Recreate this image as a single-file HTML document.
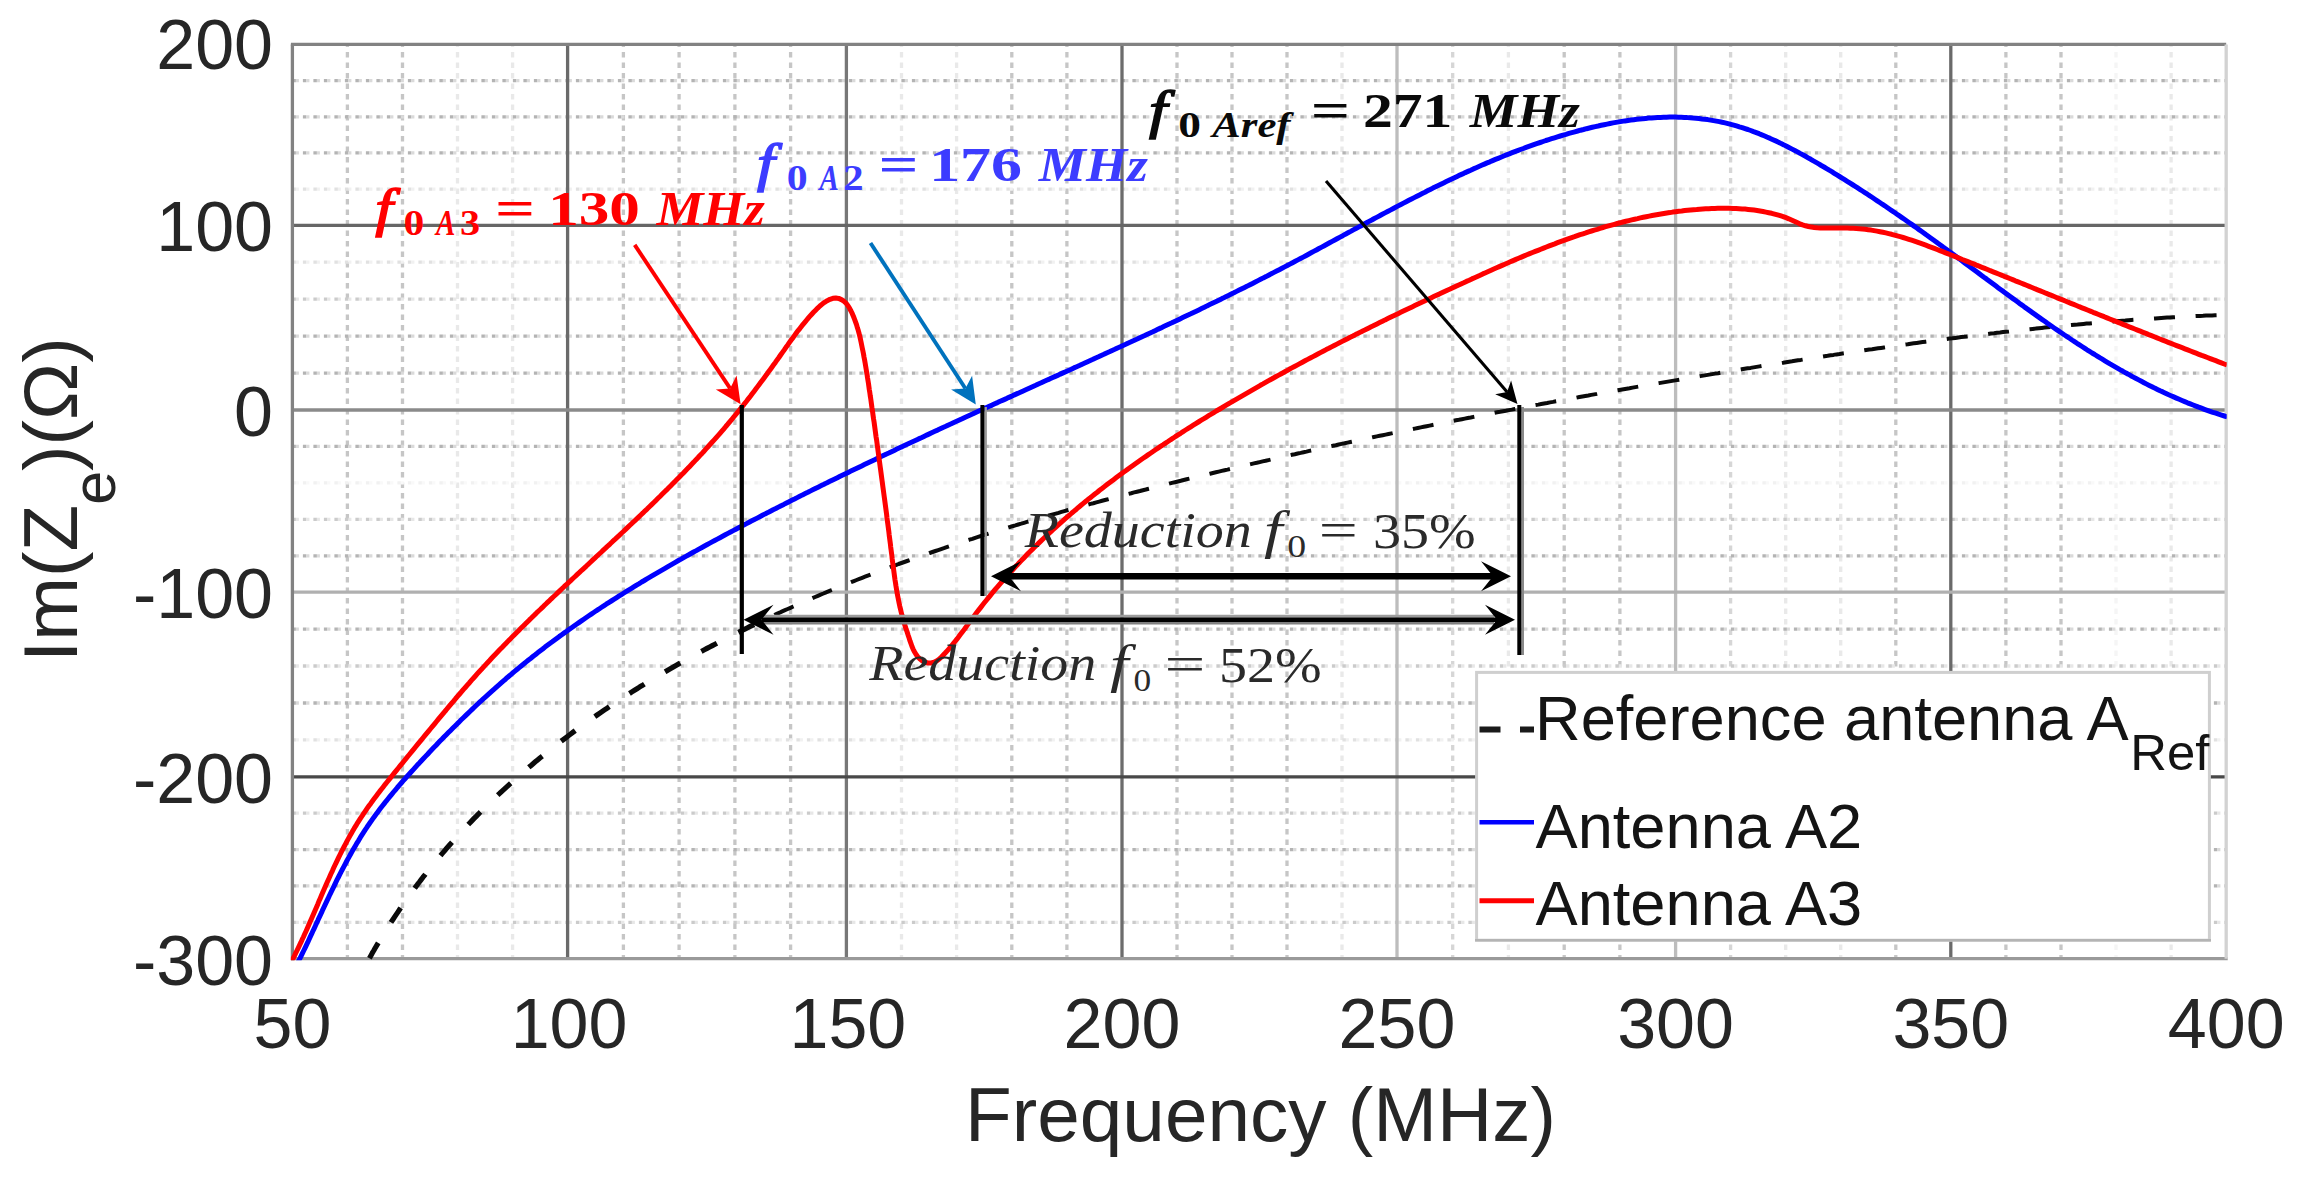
<!DOCTYPE html>
<html lang="en">
<head>
<meta charset="utf-8">
<title>Im(Ze) versus Frequency</title>
<style>
html,body{margin:0;padding:0;background:#fff;}
body{width:2300px;height:1180px;overflow:hidden;}
svg{display:block;}
</style>
</head>
<body>
<svg width="2300" height="1180" viewBox="0 0 2300 1180">
<rect width="2300" height="1180" fill="#fff"/>
<g fill="none" stroke-width="3.3">
<path d="M347.4 44.4V958.7" stroke="#c6c6c6" stroke-dasharray="5.5 5" stroke-dashoffset="3"/>
<path d="M402.5 44.4V958.7" stroke="#c6c6c6" stroke-dasharray="5.5 5" stroke-dashoffset="3"/>
<path d="M457.5 44.4V958.7" stroke="#e9e9e9" stroke-dasharray="5.5 5" stroke-dashoffset="3"/>
<path d="M512.6 44.4V958.7" stroke="#e9e9e9" stroke-dasharray="5.5 5" stroke-dashoffset="3"/>
<path d="M623.4 44.4V958.7" stroke="#c6c6c6" stroke-dasharray="5.5 5" stroke-dashoffset="3"/>
<path d="M679.1 44.4V958.7" stroke="#c6c6c6" stroke-dasharray="5.5 5" stroke-dashoffset="3"/>
<path d="M734.9 44.4V958.7" stroke="#c6c6c6" stroke-dasharray="5.5 5" stroke-dashoffset="3"/>
<path d="M790.6 44.4V958.7" stroke="#c6c6c6" stroke-dasharray="5.5 5" stroke-dashoffset="3"/>
<path d="M901.5 44.4V958.7" stroke="#e9e9e9" stroke-dasharray="5.5 5" stroke-dashoffset="3"/>
<path d="M956.6 44.4V958.7" stroke="#e9e9e9" stroke-dasharray="5.5 5" stroke-dashoffset="3"/>
<path d="M1011.8 44.4V958.7" stroke="#c6c6c6" stroke-dasharray="5.5 5" stroke-dashoffset="3"/>
<path d="M1066.9 44.4V958.7" stroke="#c6c6c6" stroke-dasharray="5.5 5" stroke-dashoffset="3"/>
<path d="M1177.0 44.4V958.7" stroke="#c6c6c6" stroke-dasharray="5.5 5" stroke-dashoffset="3"/>
<path d="M1232.0 44.4V958.7" stroke="#c6c6c6" stroke-dasharray="5.5 5" stroke-dashoffset="3"/>
<path d="M1287.0 44.4V958.7" stroke="#c6c6c6" stroke-dasharray="5.5 5" stroke-dashoffset="3"/>
<path d="M1342.0 44.4V958.7" stroke="#e9e9e9" stroke-dasharray="5.5 5" stroke-dashoffset="3"/>
<path d="M1452.7 44.4V958.7" stroke="#d6d6d6" stroke-dasharray="5.5 5" stroke-dashoffset="3"/>
<path d="M1508.4 44.4V958.7" stroke="#e9e9e9" stroke-dasharray="5.5 5" stroke-dashoffset="3"/>
<path d="M1564.2 44.4V958.7" stroke="#c6c6c6" stroke-dasharray="5.5 5" stroke-dashoffset="3"/>
<path d="M1619.9 44.4V958.7" stroke="#c6c6c6" stroke-dasharray="5.5 5" stroke-dashoffset="3"/>
<path d="M1730.6 44.4V958.7" stroke="#d6d6d6" stroke-dasharray="5.5 5" stroke-dashoffset="3"/>
<path d="M1785.7 44.4V958.7" stroke="#e9e9e9" stroke-dasharray="5.5 5" stroke-dashoffset="3"/>
<path d="M1840.7 44.4V958.7" stroke="#e9e9e9" stroke-dasharray="5.5 5" stroke-dashoffset="3"/>
<path d="M1895.8 44.4V958.7" stroke="#c6c6c6" stroke-dasharray="5.5 5" stroke-dashoffset="3"/>
<path d="M2005.9 44.4V958.7" stroke="#c6c6c6" stroke-dasharray="5.5 5" stroke-dashoffset="3"/>
<path d="M2061.0 44.4V958.7" stroke="#c6c6c6" stroke-dasharray="5.5 5" stroke-dashoffset="3"/>
<path d="M2116.0 44.4V958.7" stroke="#f5f5f5" stroke-dasharray="5.5 5" stroke-dashoffset="3"/>
<path d="M2171.1 44.4V958.7" stroke="#e9e9e9" stroke-dasharray="5.5 5" stroke-dashoffset="3"/>
<path d="M292.4 80.6H2226.2" stroke="#b4b4b4" stroke-dasharray="3.5 7"/>
<path d="M292.4 80.6H2226.2" stroke="#dadada" stroke-dasharray="3 7.5" stroke-dashoffset="-3.5"/>
<path d="M292.4 116.8H2226.2" stroke="#b4b4b4" stroke-dasharray="3.5 7"/>
<path d="M292.4 116.8H2226.2" stroke="#dadada" stroke-dasharray="3 7.5" stroke-dashoffset="-3.5"/>
<path d="M292.4 152.9H2226.2" stroke="#b4b4b4" stroke-dasharray="3.5 7"/>
<path d="M292.4 152.9H2226.2" stroke="#dadada" stroke-dasharray="3 7.5" stroke-dashoffset="-3.5"/>
<path d="M292.4 189.1H2226.2" stroke="#e1e1e1" stroke-dasharray="3.5 7"/>
<path d="M292.4 189.1H2226.2" stroke="#f1f1f1" stroke-dasharray="3 7.5" stroke-dashoffset="-3.5"/>
<path d="M292.4 262.2H2226.2" stroke="#e1e1e1" stroke-dasharray="3.5 7"/>
<path d="M292.4 262.2H2226.2" stroke="#f1f1f1" stroke-dasharray="3 7.5" stroke-dashoffset="-3.5"/>
<path d="M292.4 299.2H2226.2" stroke="#cbcbcb" stroke-dasharray="3.5 7"/>
<path d="M292.4 299.2H2226.2" stroke="#e7e7e7" stroke-dasharray="3 7.5" stroke-dashoffset="-3.5"/>
<path d="M292.4 336.1H2226.2" stroke="#b4b4b4" stroke-dasharray="3.5 7"/>
<path d="M292.4 336.1H2226.2" stroke="#dadada" stroke-dasharray="3 7.5" stroke-dashoffset="-3.5"/>
<path d="M292.4 373.1H2226.2" stroke="#b4b4b4" stroke-dasharray="3.5 7"/>
<path d="M292.4 373.1H2226.2" stroke="#dadada" stroke-dasharray="3 7.5" stroke-dashoffset="-3.5"/>
<path d="M292.4 446.4H2226.2" stroke="#b4b4b4" stroke-dasharray="3.5 7"/>
<path d="M292.4 446.4H2226.2" stroke="#dadada" stroke-dasharray="3 7.5" stroke-dashoffset="-3.5"/>
<path d="M292.4 482.9H2226.2" stroke="#f1f1f1" stroke-dasharray="3.5 7"/>
<path d="M292.4 482.9H2226.2" stroke="#f9f9f9" stroke-dasharray="3 7.5" stroke-dashoffset="-3.5"/>
<path d="M292.4 519.3H2226.2" stroke="#cbcbcb" stroke-dasharray="3.5 7"/>
<path d="M292.4 519.3H2226.2" stroke="#e7e7e7" stroke-dasharray="3 7.5" stroke-dashoffset="-3.5"/>
<path d="M292.4 555.8H2226.2" stroke="#b4b4b4" stroke-dasharray="3.5 7"/>
<path d="M292.4 555.8H2226.2" stroke="#dadada" stroke-dasharray="3 7.5" stroke-dashoffset="-3.5"/>
<path d="M292.4 629.1H2226.2" stroke="#b4b4b4" stroke-dasharray="3.5 7"/>
<path d="M292.4 629.1H2226.2" stroke="#dadada" stroke-dasharray="3 7.5" stroke-dashoffset="-3.5"/>
<path d="M292.4 666.0H2226.2" stroke="#cbcbcb" stroke-dasharray="3.5 7"/>
<path d="M292.4 666.0H2226.2" stroke="#e7e7e7" stroke-dasharray="3 7.5" stroke-dashoffset="-3.5"/>
<path d="M292.4 703.0H2226.2" stroke="#b4b4b4" stroke-dasharray="3.5 7"/>
<path d="M292.4 703.0H2226.2" stroke="#dadada" stroke-dasharray="3 7.5" stroke-dashoffset="-3.5"/>
<path d="M292.4 739.9H2226.2" stroke="#e1e1e1" stroke-dasharray="3.5 7"/>
<path d="M292.4 739.9H2226.2" stroke="#f1f1f1" stroke-dasharray="3 7.5" stroke-dashoffset="-3.5"/>
<path d="M292.4 813.2H2226.2" stroke="#cbcbcb" stroke-dasharray="3.5 7"/>
<path d="M292.4 813.2H2226.2" stroke="#e7e7e7" stroke-dasharray="3 7.5" stroke-dashoffset="-3.5"/>
<path d="M292.4 849.6H2226.2" stroke="#b4b4b4" stroke-dasharray="3.5 7"/>
<path d="M292.4 849.6H2226.2" stroke="#dadada" stroke-dasharray="3 7.5" stroke-dashoffset="-3.5"/>
<path d="M292.4 885.9H2226.2" stroke="#b4b4b4" stroke-dasharray="3.5 7"/>
<path d="M292.4 885.9H2226.2" stroke="#dadada" stroke-dasharray="3 7.5" stroke-dashoffset="-3.5"/>
<path d="M292.4 922.3H2226.2" stroke="#cbcbcb" stroke-dasharray="3.5 7"/>
<path d="M292.4 922.3H2226.2" stroke="#e7e7e7" stroke-dasharray="3 7.5" stroke-dashoffset="-3.5"/>
</g>
<g fill="none" stroke-width="3.3">
<path d="M567.6 44.4V958.7" stroke="#6a6a6a"/>
<path d="M846.4 44.4V958.7" stroke="#777"/>
<path d="M1122.0 44.4V958.7" stroke="#6c6c6c"/>
<path d="M1397.0 44.4V958.7" stroke="#bdbdbd"/>
<path d="M1675.6 44.4V958.7" stroke="#bdbdbd"/>
<path d="M1950.8 44.4V958.7" stroke="#6a6a6a"/>
<path d="M292.4 225.3H2226.2" stroke="#666"/>
<path d="M292.4 410.0H2226.2" stroke="#8a8a8a"/>
<path d="M292.4 592.2H2226.2" stroke="#b0b0b0"/>
<path d="M292.4 776.8H2226.2" stroke="#484848"/>
<path d="M290.9 44.4H2226.2" stroke="#828282"/>
<path d="M292.4 44.4V960.2" stroke="#828282"/>
<path d="M290.9 958.7H2227.7" stroke="#9a9a9a"/>
<path d="M2226.2 44.4V958.7" stroke="#d2d2d2"/>
</g>
<clipPath id="cp"><rect x="290.9" y="44.4" width="1935.8" height="915.8"/></clipPath>
<g clip-path="url(#cp)" fill="none" stroke-linejoin="round">
<clipPath id="cpa"><rect x="280" y="30" width="480" height="940"/></clipPath><clipPath id="cpb"><rect x="760" y="30" width="1480" height="940"/></clipPath>
<g clip-path="url(#cpa)"><path d="M364.7 966.7L366.2 964.0L367.7 961.3L369.2 958.6L370.7 955.9L372.2 953.2L373.8 950.5L375.3 947.8L376.9 945.2L378.5 942.5L380.0 939.9L381.6 937.3L383.2 934.7L384.9 932.1L386.5 929.5L388.1 926.9L389.8 924.3L391.4 921.7L393.1 919.2L394.8 916.6L396.5 914.1L398.2 911.6L399.9 909.0L401.6 906.5L403.3 904.0L405.1 901.6L406.8 899.1L408.6 896.6L410.3 894.2L412.1 891.7L413.9 889.3L415.7 886.9L417.5 884.4L419.4 882.0L421.2 879.6L423.0 877.2L424.9 874.9L426.7 872.5L428.6 870.1L430.5 867.8L432.4 865.4L434.3 863.1L436.2 860.8L438.1 858.5L440.0 856.2L441.9 853.9L443.9 851.6L445.8 849.3L447.8 847.1L449.8 844.8L451.7 842.6L453.7 840.3L455.7 838.1L457.7 835.9L459.8 833.7L461.8 831.5L463.8 829.3L465.8 827.1L467.9 824.9L470.0 822.7L472.0 820.6L474.1 818.4L476.2 816.3L478.3 814.2L480.4 812.0L482.5 809.9L484.6 807.8L486.7 805.7L488.8 803.7L491.0 801.6L493.1 799.5L495.3 797.4L497.4 795.4L499.6 793.4L501.8 791.3L504.0 789.3L506.2 787.3L508.4 785.3L510.6 783.3L512.8 781.3L515.0 779.3L517.2 777.3L519.5 775.4L521.7 773.4L524.0 771.4L526.2 769.5L528.5 767.6L530.8 765.7L533.1 763.7L535.3 761.8L537.6 759.9L539.9 758.0L542.2 756.2L544.6 754.3L546.9 752.4L549.2 750.5L551.5 748.7L553.9 746.9L556.2 745.0L558.6 743.2L560.9 741.4L563.3 739.6L565.7 737.8L568.1 736.0L570.4 734.2L572.8 732.4L575.2 730.6L577.6 728.8L580.0 727.1L582.5 725.3L584.9 723.6L587.3 721.9L589.7 720.1L592.2 718.4L594.6 716.7L597.1 715.0L599.5 713.3L602.0 711.6L604.5 709.9L606.9 708.3L609.4 706.6L611.9 704.9L614.4 703.3L616.9 701.6L619.4 700.0L621.9 698.4L624.4 696.7L626.9 695.1L629.4 693.5L631.9 691.9L634.5 690.3L637.0 688.7L639.5 687.1L642.1 685.6L644.6 684.0L647.2 682.4L649.7 680.9L652.3 679.3L654.9 677.8L657.4 676.3L660.0 674.7L662.6 673.2L665.2 671.7L667.7 670.2L670.3 668.7L672.9 667.2L675.5 665.7L678.1 664.2L680.7 662.8L683.4 661.3L686.0 659.8L688.6 658.4L691.2 656.9L693.8 655.5L696.5 654.1L699.1 652.6L701.7 651.2L704.4 649.8L707.0 648.4L709.7 647.0L712.3 645.6L715.0 644.2L717.6 642.8L720.3 641.5L722.9 640.1L725.6 638.7L728.3 637.4L731.0 636.0L733.6 634.7L736.3 633.3L739.0 632.0L741.7 630.7L744.4 629.3L747.1 628.0L749.7 626.7L752.4 625.4L755.1 624.1L757.8 622.8L760.5 621.5L763.2 620.3L766.0 619.0L768.7 617.7L771.4 616.4L774.1 615.2L776.8 613.9L779.5 612.7L782.2 611.4L785.0 610.2L787.7 609.0L790.4 607.8L793.2 606.5L795.9 605.3L798.6 604.1L801.4 602.9L804.1 601.7L806.9 600.5L809.6 599.3L812.4 598.2L815.1 597.0L817.9 595.8L820.6 594.6L823.4 593.5L826.1 592.3L828.9 591.2L831.7 590.0L834.4 588.9L837.2 587.8L840.0 586.6L842.7 585.5L845.5 584.4L848.3 583.3L851.1 582.2L853.9 581.1L856.6 580.0L859.4 578.9L862.2 577.8L865.0 576.7L867.8 575.6L870.6 574.5L873.4 573.5L876.2 572.4L879.0 571.3L881.8 570.3L884.6 569.2L887.4 568.2L890.2 567.1L893.0 566.1L895.8 565.1L898.6 564.0L901.5 563.0L904.3 562.0L907.1 561.0L909.9 560.0L912.7 559.0L915.6 558.0L918.4 557.0L921.2 556.0L924.0 555.0L926.9 554.0L929.7 553.0L932.5 552.0L935.4 551.0L938.2 550.1L941.1 549.1L943.9 548.2L946.7 547.2L949.6 546.2L952.4 545.3L955.3 544.4L958.1 543.4L961.0 542.5L963.8 541.5L966.7 540.6L969.5 539.7L972.4 538.8L975.2 537.8L978.1 536.9L981.0 536.0L983.8 535.1L986.7 534.2L989.5 533.3L992.4 532.4L995.3 531.5L998.1 530.6L1001.0 529.8L1003.9 528.9L1006.8 528.0L1009.6 527.1L1012.5 526.2L1015.4 525.4L1018.3 524.5L1021.1 523.7L1024.0 522.8L1026.9 521.9L1029.8 521.1L1032.7 520.2L1035.5 519.4L1038.4 518.6L1041.3 517.7L1044.2 516.9L1047.1 516.1L1050.0 515.2L1052.9 514.4L1055.8 513.6L1058.6 512.8L1061.5 511.9L1064.4 511.1L1067.3 510.3L1070.2 509.5L1073.1 508.7L1076.0 507.9L1078.9 507.1L1081.8 506.3L1084.7 505.5L1087.6 504.7L1090.5 503.9L1093.4 503.2L1096.3 502.4L1099.2 501.6L1102.1 500.8L1105.0 500.0L1107.9 499.3L1110.9 498.5L1113.8 497.7L1116.7 497.0L1119.6 496.2L1122.5 495.5L1125.4 494.7L1128.3 493.9L1131.2 493.2L1134.1 492.4L1137.0 491.7L1140.0 491.0L1142.9 490.2L1145.8 489.5L1148.7 488.7L1151.6 488.0L1154.5 487.3L1157.4 486.5L1160.4 485.8L1163.3 485.1L1166.2 484.4L1169.1 483.6L1172.0 482.9L1175.0 482.2L1177.9 481.5L1180.8 480.8L1183.7 480.0L1186.6 479.3L1189.6 478.6L1192.5 477.9L1195.4 477.2L1198.3 476.5L1201.2 475.8L1204.2 475.1L1207.1 474.4L1210.0 473.7L1212.9 473.0L1215.9 472.3L1218.8 471.6L1221.7 470.9L1224.6 470.2L1227.5 469.6L1230.5 468.9L1233.4 468.2L1236.3 467.5L1239.2 466.8L1242.2 466.1L1245.1 465.5L1248.0 464.8L1250.9 464.1L1253.9 463.4L1256.8 462.8L1259.7 462.1L1262.6 461.4L1265.6 460.8L1268.5 460.1L1271.4 459.4L1274.3 458.8L1277.3 458.1L1280.2 457.4L1283.1 456.8L1286.0 456.1L1289.0 455.5L1291.9 454.8L1294.8 454.2L1297.7 453.5L1300.7 452.9L1303.6 452.2L1306.5 451.6L1309.4 450.9L1312.4 450.3L1315.3 449.6L1318.2 449.0L1321.1 448.3L1324.1 447.7L1327.0 447.1L1329.9 446.4L1332.9 445.8L1335.8 445.2L1338.7 444.5L1341.6 443.9L1344.6 443.3L1347.5 442.6L1350.4 442.0L1353.4 441.4L1356.3 440.8L1359.2 440.1L1362.1 439.5L1365.1 438.9L1368.0 438.3L1370.9 437.7L1373.9 437.0L1376.8 436.4L1379.7 435.8L1382.7 435.2L1385.6 434.6L1388.5 434.0L1391.5 433.4L1394.4 432.8L1397.3 432.2L1400.2 431.6L1403.2 431.0L1406.1 430.4L1409.0 429.8L1412.0 429.2L1414.9 428.6L1417.8 428.0L1420.8 427.4L1423.7 426.8L1426.6 426.2L1429.6 425.6L1432.5 425.0L1435.4 424.4L1438.4 423.8L1441.3 423.2L1444.2 422.7L1447.2 422.1L1450.1 421.5L1453.1 420.9L1456.0 420.3L1458.9 419.8L1461.9 419.2L1464.8 418.6L1467.7 418.0L1470.7 417.5L1473.6 416.9L1476.5 416.3L1479.5 415.7L1482.4 415.2L1485.3 414.6L1488.3 414.0L1491.2 413.5L1494.2 412.9L1497.1 412.3L1500.0 411.8L1503.0 411.2L1505.9 410.7L1508.9 410.1L1511.8 409.6L1514.7 409.0L1517.7 408.4L1520.6 407.9L1523.6 407.3L1526.5 406.8L1529.4 406.2L1532.4 405.7L1535.3 405.1L1538.3 404.6L1541.2 404.0L1544.1 403.5L1547.1 403.0L1550.0 402.4L1553.0 401.9L1555.9 401.3L1558.8 400.8L1561.8 400.2L1564.7 399.7L1567.7 399.2L1570.6 398.6L1573.6 398.1L1576.5 397.6L1579.4 397.0L1582.4 396.5L1585.3 396.0L1588.3 395.5L1591.2 394.9L1594.2 394.4L1597.1 393.9L1600.1 393.3L1603.0 392.8L1606.0 392.3L1608.9 391.8L1611.8 391.3L1614.8 390.7L1617.7 390.2L1620.7 389.7L1623.6 389.2L1626.6 388.7L1629.5 388.2L1632.5 387.6L1635.4 387.1L1638.4 386.6L1641.3 386.1L1644.3 385.6L1647.2 385.1L1650.2 384.6L1653.1 384.1L1656.1 383.6L1659.0 383.1L1662.0 382.6L1664.9 382.1L1667.9 381.6L1670.8 381.1L1673.8 380.6L1676.7 380.1L1679.7 379.6L1682.6 379.1L1685.6 378.6L1688.5 378.1L1691.5 377.6L1694.4 377.1L1697.4 376.6L1700.3 376.1L1703.3 375.6L1706.3 375.1L1709.2 374.6L1712.2 374.1L1715.1 373.6L1718.1 373.2L1721.0 372.7L1724.0 372.2L1726.9 371.7L1729.9 371.2L1732.9 370.7L1735.8 370.2L1738.8 369.8L1741.7 369.3L1744.7 368.8L1747.6 368.3L1750.6 367.9L1753.6 367.4L1756.5 366.9L1759.5 366.4L1762.4 365.9L1765.4 365.5L1768.3 365.0L1771.3 364.5L1774.3 364.1L1777.2 363.6L1780.2 363.1L1783.2 362.7L1786.1 362.2L1789.1 361.7L1792.0 361.3L1795.0 360.8L1798.0 360.3L1800.9 359.9L1803.9 359.4L1806.8 358.9L1809.8 358.5L1812.8 358.0L1815.7 357.6L1818.7 357.1L1821.7 356.7L1824.6 356.2L1827.6 355.8L1830.6 355.3L1833.5 354.9L1836.5 354.4L1839.5 354.0L1842.4 353.5L1845.4 353.1L1848.4 352.6L1851.3 352.2L1854.3 351.8L1857.3 351.3L1860.2 350.9L1863.2 350.5L1866.2 350.0L1869.1 349.6L1872.1 349.2L1875.1 348.7L1878.0 348.3L1881.0 347.9L1884.0 347.5L1886.9 347.1L1889.9 346.6L1892.9 346.2L1895.9 345.8L1898.8 345.4L1901.8 345.0L1904.8 344.6L1907.7 344.2L1910.7 343.7L1913.7 343.3L1916.7 342.9L1919.6 342.5L1922.6 342.1L1925.6 341.7L1928.6 341.3L1931.5 341.0L1934.5 340.6L1937.5 340.2L1940.4 339.8L1943.4 339.4L1946.4 339.0L1949.4 338.6L1952.3 338.3L1955.3 337.9L1958.3 337.5L1961.3 337.1L1964.2 336.8L1967.2 336.4L1970.2 336.0L1973.2 335.7L1976.2 335.3L1979.1 334.9L1982.1 334.6L1985.1 334.2L1988.1 333.9L1991.0 333.5L1994.0 333.2L1997.0 332.8L2000.0 332.5L2003.0 332.1L2005.9 331.8L2008.9 331.5L2011.9 331.1L2014.9 330.8L2017.9 330.5L2020.8 330.1L2023.8 329.8L2026.8 329.5L2029.8 329.2L2032.8 328.9L2035.7 328.6L2038.7 328.2L2041.7 327.9L2044.7 327.6L2047.7 327.3L2050.7 327.0L2053.6 326.7L2056.6 326.4L2059.6 326.1L2062.6 325.9L2065.6 325.6L2068.6 325.3L2071.5 325.0L2074.5 324.7L2077.5 324.5L2080.5 324.2L2083.5 323.9L2086.5 323.6L2089.4 323.4L2092.4 323.1L2095.4 322.9L2098.4 322.6L2101.4 322.4L2104.4 322.1L2107.4 321.9L2110.3 321.6L2113.3 321.4L2116.3 321.1L2119.3 320.9L2122.3 320.7L2125.3 320.5L2128.3 320.2L2131.3 320.0L2134.2 319.8L2137.2 319.6L2140.2 319.4L2143.2 319.2L2146.2 319.0L2149.2 318.8L2152.2 318.6L2155.2 318.4L2158.2 318.2L2161.2 318.0L2164.1 317.8L2167.1 317.6L2170.1 317.5L2173.1 317.3L2176.1 317.1L2179.1 317.0L2182.1 316.8L2185.1 316.6L2188.1 316.5L2191.1 316.3L2194.1 316.2L2197.0 316.0L2200.0 315.9L2203.0 315.8L2206.0 315.6L2209.0 315.5L2212.0 315.4L2215.0 315.2L2218.0 315.1L2221.0 315.0L2224.0 314.9L2227.0 314.8" stroke="#0a0a0a" stroke-width="5.2" stroke-dasharray="17.60 24.06" stroke-dashoffset="31.90"/></g>
<g clip-path="url(#cpb)"><path d="M364.7 966.7L366.2 964.0L367.7 961.3L369.2 958.6L370.7 955.9L372.2 953.2L373.8 950.5L375.3 947.8L376.9 945.2L378.5 942.5L380.0 939.9L381.6 937.3L383.2 934.7L384.9 932.1L386.5 929.5L388.1 926.9L389.8 924.3L391.4 921.7L393.1 919.2L394.8 916.6L396.5 914.1L398.2 911.6L399.9 909.0L401.6 906.5L403.3 904.0L405.1 901.6L406.8 899.1L408.6 896.6L410.3 894.2L412.1 891.7L413.9 889.3L415.7 886.9L417.5 884.4L419.4 882.0L421.2 879.6L423.0 877.2L424.9 874.9L426.7 872.5L428.6 870.1L430.5 867.8L432.4 865.4L434.3 863.1L436.2 860.8L438.1 858.5L440.0 856.2L441.9 853.9L443.9 851.6L445.8 849.3L447.8 847.1L449.8 844.8L451.7 842.6L453.7 840.3L455.7 838.1L457.7 835.9L459.8 833.7L461.8 831.5L463.8 829.3L465.8 827.1L467.9 824.9L470.0 822.7L472.0 820.6L474.1 818.4L476.2 816.3L478.3 814.2L480.4 812.0L482.5 809.9L484.6 807.8L486.7 805.7L488.8 803.7L491.0 801.6L493.1 799.5L495.3 797.4L497.4 795.4L499.6 793.4L501.8 791.3L504.0 789.3L506.2 787.3L508.4 785.3L510.6 783.3L512.8 781.3L515.0 779.3L517.2 777.3L519.5 775.4L521.7 773.4L524.0 771.4L526.2 769.5L528.5 767.6L530.8 765.7L533.1 763.7L535.3 761.8L537.6 759.9L539.9 758.0L542.2 756.2L544.6 754.3L546.9 752.4L549.2 750.5L551.5 748.7L553.9 746.9L556.2 745.0L558.6 743.2L560.9 741.4L563.3 739.6L565.7 737.8L568.1 736.0L570.4 734.2L572.8 732.4L575.2 730.6L577.6 728.8L580.0 727.1L582.5 725.3L584.9 723.6L587.3 721.9L589.7 720.1L592.2 718.4L594.6 716.7L597.1 715.0L599.5 713.3L602.0 711.6L604.5 709.9L606.9 708.3L609.4 706.6L611.9 704.9L614.4 703.3L616.9 701.6L619.4 700.0L621.9 698.4L624.4 696.7L626.9 695.1L629.4 693.5L631.9 691.9L634.5 690.3L637.0 688.7L639.5 687.1L642.1 685.6L644.6 684.0L647.2 682.4L649.7 680.9L652.3 679.3L654.9 677.8L657.4 676.3L660.0 674.7L662.6 673.2L665.2 671.7L667.7 670.2L670.3 668.7L672.9 667.2L675.5 665.7L678.1 664.2L680.7 662.8L683.4 661.3L686.0 659.8L688.6 658.4L691.2 656.9L693.8 655.5L696.5 654.1L699.1 652.6L701.7 651.2L704.4 649.8L707.0 648.4L709.7 647.0L712.3 645.6L715.0 644.2L717.6 642.8L720.3 641.5L722.9 640.1L725.6 638.7L728.3 637.4L731.0 636.0L733.6 634.7L736.3 633.3L739.0 632.0L741.7 630.7L744.4 629.3L747.1 628.0L749.7 626.7L752.4 625.4L755.1 624.1L757.8 622.8L760.5 621.5L763.2 620.3L766.0 619.0L768.7 617.7L771.4 616.4L774.1 615.2L776.8 613.9L779.5 612.7L782.2 611.4L785.0 610.2L787.7 609.0L790.4 607.8L793.2 606.5L795.9 605.3L798.6 604.1L801.4 602.9L804.1 601.7L806.9 600.5L809.6 599.3L812.4 598.2L815.1 597.0L817.9 595.8L820.6 594.6L823.4 593.5L826.1 592.3L828.9 591.2L831.7 590.0L834.4 588.9L837.2 587.8L840.0 586.6L842.7 585.5L845.5 584.4L848.3 583.3L851.1 582.2L853.9 581.1L856.6 580.0L859.4 578.9L862.2 577.8L865.0 576.7L867.8 575.6L870.6 574.5L873.4 573.5L876.2 572.4L879.0 571.3L881.8 570.3L884.6 569.2L887.4 568.2L890.2 567.1L893.0 566.1L895.8 565.1L898.6 564.0L901.5 563.0L904.3 562.0L907.1 561.0L909.9 560.0L912.7 559.0L915.6 558.0L918.4 557.0L921.2 556.0L924.0 555.0L926.9 554.0L929.7 553.0L932.5 552.0L935.4 551.0L938.2 550.1L941.1 549.1L943.9 548.2L946.7 547.2L949.6 546.2L952.4 545.3L955.3 544.4L958.1 543.4L961.0 542.5L963.8 541.5L966.7 540.6L969.5 539.7L972.4 538.8L975.2 537.8L978.1 536.9L981.0 536.0L983.8 535.1L986.7 534.2L989.5 533.3L992.4 532.4L995.3 531.5L998.1 530.6L1001.0 529.8L1003.9 528.9L1006.8 528.0L1009.6 527.1L1012.5 526.2L1015.4 525.4L1018.3 524.5L1021.1 523.7L1024.0 522.8L1026.9 521.9L1029.8 521.1L1032.7 520.2L1035.5 519.4L1038.4 518.6L1041.3 517.7L1044.2 516.9L1047.1 516.1L1050.0 515.2L1052.9 514.4L1055.8 513.6L1058.6 512.8L1061.5 511.9L1064.4 511.1L1067.3 510.3L1070.2 509.5L1073.1 508.7L1076.0 507.9L1078.9 507.1L1081.8 506.3L1084.7 505.5L1087.6 504.7L1090.5 503.9L1093.4 503.2L1096.3 502.4L1099.2 501.6L1102.1 500.8L1105.0 500.0L1107.9 499.3L1110.9 498.5L1113.8 497.7L1116.7 497.0L1119.6 496.2L1122.5 495.5L1125.4 494.7L1128.3 493.9L1131.2 493.2L1134.1 492.4L1137.0 491.7L1140.0 491.0L1142.9 490.2L1145.8 489.5L1148.7 488.7L1151.6 488.0L1154.5 487.3L1157.4 486.5L1160.4 485.8L1163.3 485.1L1166.2 484.4L1169.1 483.6L1172.0 482.9L1175.0 482.2L1177.9 481.5L1180.8 480.8L1183.7 480.0L1186.6 479.3L1189.6 478.6L1192.5 477.9L1195.4 477.2L1198.3 476.5L1201.2 475.8L1204.2 475.1L1207.1 474.4L1210.0 473.7L1212.9 473.0L1215.9 472.3L1218.8 471.6L1221.7 470.9L1224.6 470.2L1227.5 469.6L1230.5 468.9L1233.4 468.2L1236.3 467.5L1239.2 466.8L1242.2 466.1L1245.1 465.5L1248.0 464.8L1250.9 464.1L1253.9 463.4L1256.8 462.8L1259.7 462.1L1262.6 461.4L1265.6 460.8L1268.5 460.1L1271.4 459.4L1274.3 458.8L1277.3 458.1L1280.2 457.4L1283.1 456.8L1286.0 456.1L1289.0 455.5L1291.9 454.8L1294.8 454.2L1297.7 453.5L1300.7 452.9L1303.6 452.2L1306.5 451.6L1309.4 450.9L1312.4 450.3L1315.3 449.6L1318.2 449.0L1321.1 448.3L1324.1 447.7L1327.0 447.1L1329.9 446.4L1332.9 445.8L1335.8 445.2L1338.7 444.5L1341.6 443.9L1344.6 443.3L1347.5 442.6L1350.4 442.0L1353.4 441.4L1356.3 440.8L1359.2 440.1L1362.1 439.5L1365.1 438.9L1368.0 438.3L1370.9 437.7L1373.9 437.0L1376.8 436.4L1379.7 435.8L1382.7 435.2L1385.6 434.6L1388.5 434.0L1391.5 433.4L1394.4 432.8L1397.3 432.2L1400.2 431.6L1403.2 431.0L1406.1 430.4L1409.0 429.8L1412.0 429.2L1414.9 428.6L1417.8 428.0L1420.8 427.4L1423.7 426.8L1426.6 426.2L1429.6 425.6L1432.5 425.0L1435.4 424.4L1438.4 423.8L1441.3 423.2L1444.2 422.7L1447.2 422.1L1450.1 421.5L1453.1 420.9L1456.0 420.3L1458.9 419.8L1461.9 419.2L1464.8 418.6L1467.7 418.0L1470.7 417.5L1473.6 416.9L1476.5 416.3L1479.5 415.7L1482.4 415.2L1485.3 414.6L1488.3 414.0L1491.2 413.5L1494.2 412.9L1497.1 412.3L1500.0 411.8L1503.0 411.2L1505.9 410.7L1508.9 410.1L1511.8 409.6L1514.7 409.0L1517.7 408.4L1520.6 407.9L1523.6 407.3L1526.5 406.8L1529.4 406.2L1532.4 405.7L1535.3 405.1L1538.3 404.6L1541.2 404.0L1544.1 403.5L1547.1 403.0L1550.0 402.4L1553.0 401.9L1555.9 401.3L1558.8 400.8L1561.8 400.2L1564.7 399.7L1567.7 399.2L1570.6 398.6L1573.6 398.1L1576.5 397.6L1579.4 397.0L1582.4 396.5L1585.3 396.0L1588.3 395.5L1591.2 394.9L1594.2 394.4L1597.1 393.9L1600.1 393.3L1603.0 392.8L1606.0 392.3L1608.9 391.8L1611.8 391.3L1614.8 390.7L1617.7 390.2L1620.7 389.7L1623.6 389.2L1626.6 388.7L1629.5 388.2L1632.5 387.6L1635.4 387.1L1638.4 386.6L1641.3 386.1L1644.3 385.6L1647.2 385.1L1650.2 384.6L1653.1 384.1L1656.1 383.6L1659.0 383.1L1662.0 382.6L1664.9 382.1L1667.9 381.6L1670.8 381.1L1673.8 380.6L1676.7 380.1L1679.7 379.6L1682.6 379.1L1685.6 378.6L1688.5 378.1L1691.5 377.6L1694.4 377.1L1697.4 376.6L1700.3 376.1L1703.3 375.6L1706.3 375.1L1709.2 374.6L1712.2 374.1L1715.1 373.6L1718.1 373.2L1721.0 372.7L1724.0 372.2L1726.9 371.7L1729.9 371.2L1732.9 370.7L1735.8 370.2L1738.8 369.8L1741.7 369.3L1744.7 368.8L1747.6 368.3L1750.6 367.9L1753.6 367.4L1756.5 366.9L1759.5 366.4L1762.4 365.9L1765.4 365.5L1768.3 365.0L1771.3 364.5L1774.3 364.1L1777.2 363.6L1780.2 363.1L1783.2 362.7L1786.1 362.2L1789.1 361.7L1792.0 361.3L1795.0 360.8L1798.0 360.3L1800.9 359.9L1803.9 359.4L1806.8 358.9L1809.8 358.5L1812.8 358.0L1815.7 357.6L1818.7 357.1L1821.7 356.7L1824.6 356.2L1827.6 355.8L1830.6 355.3L1833.5 354.9L1836.5 354.4L1839.5 354.0L1842.4 353.5L1845.4 353.1L1848.4 352.6L1851.3 352.2L1854.3 351.8L1857.3 351.3L1860.2 350.9L1863.2 350.5L1866.2 350.0L1869.1 349.6L1872.1 349.2L1875.1 348.7L1878.0 348.3L1881.0 347.9L1884.0 347.5L1886.9 347.1L1889.9 346.6L1892.9 346.2L1895.9 345.8L1898.8 345.4L1901.8 345.0L1904.8 344.6L1907.7 344.2L1910.7 343.7L1913.7 343.3L1916.7 342.9L1919.6 342.5L1922.6 342.1L1925.6 341.7L1928.6 341.3L1931.5 341.0L1934.5 340.6L1937.5 340.2L1940.4 339.8L1943.4 339.4L1946.4 339.0L1949.4 338.6L1952.3 338.3L1955.3 337.9L1958.3 337.5L1961.3 337.1L1964.2 336.8L1967.2 336.4L1970.2 336.0L1973.2 335.7L1976.2 335.3L1979.1 334.9L1982.1 334.6L1985.1 334.2L1988.1 333.9L1991.0 333.5L1994.0 333.2L1997.0 332.8L2000.0 332.5L2003.0 332.1L2005.9 331.8L2008.9 331.5L2011.9 331.1L2014.9 330.8L2017.9 330.5L2020.8 330.1L2023.8 329.8L2026.8 329.5L2029.8 329.2L2032.8 328.9L2035.7 328.6L2038.7 328.2L2041.7 327.9L2044.7 327.6L2047.7 327.3L2050.7 327.0L2053.6 326.7L2056.6 326.4L2059.6 326.1L2062.6 325.9L2065.6 325.6L2068.6 325.3L2071.5 325.0L2074.5 324.7L2077.5 324.5L2080.5 324.2L2083.5 323.9L2086.5 323.6L2089.4 323.4L2092.4 323.1L2095.4 322.9L2098.4 322.6L2101.4 322.4L2104.4 322.1L2107.4 321.9L2110.3 321.6L2113.3 321.4L2116.3 321.1L2119.3 320.9L2122.3 320.7L2125.3 320.5L2128.3 320.2L2131.3 320.0L2134.2 319.8L2137.2 319.6L2140.2 319.4L2143.2 319.2L2146.2 319.0L2149.2 318.8L2152.2 318.6L2155.2 318.4L2158.2 318.2L2161.2 318.0L2164.1 317.8L2167.1 317.6L2170.1 317.5L2173.1 317.3L2176.1 317.1L2179.1 317.0L2182.1 316.8L2185.1 316.6L2188.1 316.5L2191.1 316.3L2194.1 316.2L2197.0 316.0L2200.0 315.9L2203.0 315.8L2206.0 315.6L2209.0 315.5L2212.0 315.4L2215.0 315.2L2218.0 315.1L2221.0 315.0L2224.0 314.9L2227.0 314.8" stroke="#0a0a0a" stroke-width="4.0" stroke-dasharray="21.00 20.66" stroke-dashoffset="33.60"/></g>
<path d="M293.3 971.8L294.6 969.2L296.0 966.5L297.3 963.9L298.6 961.2L299.9 958.5L301.2 955.9L302.5 953.2L303.8 950.5L305.1 947.8L306.4 945.1L307.7 942.4L308.9 939.7L310.2 936.9L311.5 934.2L312.7 931.5L314.0 928.8L315.3 926.0L316.5 923.3L317.8 920.6L319.0 917.8L320.3 915.1L321.6 912.4L322.8 909.6L324.1 906.9L325.4 904.2L326.7 901.4L328.0 898.7L329.2 896.0L330.5 893.3L331.8 890.6L333.2 887.8L334.5 885.1L335.8 882.4L337.1 879.7L338.5 877.0L339.8 874.4L341.2 871.7L342.6 869.0L344.0 866.3L345.4 863.7L346.8 861.0L348.2 858.4L349.7 855.8L351.1 853.2L352.6 850.6L354.1 848.0L355.6 845.4L357.1 842.8L358.7 840.3L360.2 837.7L361.8 835.2L363.4 832.7L365.0 830.2L366.7 827.7L368.3 825.2L370.0 822.8L371.7 820.3L373.4 817.9L375.2 815.5L377.0 813.1L378.7 810.7L380.5 808.3L382.3 806.0L384.2 803.6L386.0 801.3L387.9 799.0L389.8 796.6L391.7 794.3L393.6 792.0L395.5 789.8L397.4 787.5L399.4 785.2L401.3 783.0L403.3 780.7L405.3 778.5L407.3 776.2L409.3 774.0L411.3 771.8L413.3 769.6L415.3 767.3L417.3 765.1L419.4 762.9L421.4 760.7L423.5 758.5L425.5 756.4L427.6 754.2L429.6 752.0L431.7 749.8L433.8 747.6L435.9 745.5L437.9 743.3L440.0 741.1L442.1 739.0L444.2 736.8L446.3 734.7L448.4 732.6L450.6 730.4L452.7 728.3L454.8 726.2L457.0 724.1L459.1 721.9L461.2 719.8L463.4 717.7L465.6 715.6L467.7 713.6L469.9 711.5L472.1 709.4L474.3 707.3L476.4 705.3L478.6 703.2L480.8 701.2L483.0 699.1L485.3 697.1L487.5 695.1L489.7 693.1L491.9 691.1L494.2 689.1L496.4 687.1L498.7 685.1L500.9 683.1L503.2 681.1L505.5 679.2L507.7 677.2L510.0 675.3L512.3 673.3L514.6 671.4L516.9 669.5L519.2 667.6L521.5 665.7L523.9 663.8L526.2 661.9L528.5 660.0L530.9 658.2L533.2 656.3L535.6 654.5L537.9 652.6L540.3 650.8L542.7 649.0L545.0 647.1L547.4 645.3L549.8 643.5L552.2 641.8L554.6 640.0L557.0 638.2L559.4 636.4L561.8 634.7L564.3 632.9L566.7 631.2L569.1 629.4L571.6 627.7L574.0 626.0L576.5 624.3L578.9 622.6L581.4 620.9L583.8 619.2L586.3 617.5L588.8 615.8L591.3 614.1L593.7 612.5L596.2 610.8L598.7 609.2L601.2 607.5L603.7 605.9L606.2 604.2L608.7 602.6L611.3 601.0L613.8 599.4L616.3 597.8L618.8 596.2L621.4 594.6L623.9 593.0L626.4 591.4L629.0 589.8L631.5 588.3L634.1 586.7L636.6 585.1L639.2 583.6L641.7 582.0L644.3 580.5L646.9 578.9L649.5 577.4L652.0 575.9L654.6 574.3L657.2 572.8L659.8 571.3L662.4 569.8L665.0 568.3L667.5 566.8L670.1 565.3L672.7 563.8L675.3 562.3L678.0 560.8L680.6 559.4L683.2 557.9L685.8 556.4L688.4 555.0L691.0 553.5L693.6 552.0L696.3 550.6L698.9 549.1L701.5 547.7L704.1 546.3L706.8 544.8L709.4 543.4L712.1 541.9L714.7 540.5L717.3 539.1L720.0 537.7L722.6 536.3L725.3 534.8L727.9 533.4L730.6 532.0L733.2 530.6L735.9 529.2L738.5 527.8L741.2 526.4L743.8 525.0L746.5 523.6L749.1 522.2L751.8 520.8L754.4 519.5L757.1 518.1L759.8 516.7L762.4 515.3L765.1 513.9L767.8 512.6L770.4 511.2L773.1 509.8L775.8 508.5L778.4 507.1L781.1 505.7L783.8 504.4L786.5 503.0L789.1 501.7L791.8 500.3L794.5 499.0L797.2 497.6L799.8 496.3L802.5 494.9L805.2 493.6L807.9 492.3L810.6 490.9L813.2 489.6L815.9 488.2L818.6 486.9L821.3 485.6L824.0 484.3L826.7 482.9L829.4 481.6L832.1 480.3L834.8 479.0L837.4 477.7L840.1 476.3L842.8 475.0L845.5 473.7L848.2 472.4L850.9 471.1L853.6 469.8L856.3 468.5L859.0 467.2L861.7 465.9L864.4 464.6L867.1 463.3L869.8 462.0L872.5 460.7L875.2 459.4L877.9 458.1L880.6 456.8L883.3 455.5L886.0 454.2L888.8 453.0L891.5 451.7L894.2 450.4L896.9 449.1L899.6 447.8L902.3 446.6L905.0 445.3L907.7 444.0L910.4 442.7L913.1 441.5L915.9 440.2L918.6 438.9L921.3 437.7L924.0 436.4L926.7 435.1L929.4 433.9L932.2 432.6L934.9 431.3L937.6 430.1L940.3 428.8L943.0 427.5L945.8 426.3L948.5 425.0L951.2 423.8L953.9 422.5L956.6 421.3L959.4 420.0L962.1 418.8L964.8 417.5L967.5 416.3L970.3 415.0L973.0 413.8L975.7 412.5L978.4 411.3L981.2 410.0L983.9 408.8L986.6 407.5L989.3 406.3L992.1 405.1L994.8 403.8L997.5 402.6L1000.2 401.3L1003.0 400.1L1005.7 398.9L1008.4 397.6L1011.2 396.4L1013.9 395.1L1016.6 393.9L1019.3 392.7L1022.1 391.4L1024.8 390.2L1027.5 389.0L1030.3 387.7L1033.0 386.5L1035.7 385.3L1038.4 384.0L1041.2 382.8L1043.9 381.5L1046.6 380.3L1049.4 379.1L1052.1 377.8L1054.8 376.6L1057.6 375.4L1060.3 374.1L1063.0 372.9L1065.7 371.7L1068.5 370.4L1071.2 369.2L1073.9 367.9L1076.7 366.7L1079.4 365.5L1082.1 364.2L1084.8 363.0L1087.6 361.7L1090.3 360.5L1093.0 359.3L1095.7 358.0L1098.5 356.8L1101.2 355.5L1103.9 354.3L1106.6 353.0L1109.4 351.8L1112.1 350.5L1114.8 349.3L1117.5 348.0L1120.3 346.8L1123.0 345.5L1125.7 344.3L1128.4 343.0L1131.1 341.8L1133.9 340.5L1136.6 339.3L1139.3 338.0L1142.0 336.7L1144.7 335.5L1147.4 334.2L1150.2 332.9L1152.9 331.7L1155.6 330.4L1158.3 329.1L1161.0 327.9L1163.7 326.6L1166.4 325.3L1169.1 324.0L1171.9 322.8L1174.6 321.5L1177.3 320.2L1180.0 318.9L1182.7 317.6L1185.4 316.3L1188.1 315.0L1190.8 313.8L1193.5 312.5L1196.2 311.2L1198.9 309.9L1201.6 308.6L1204.3 307.3L1207.0 305.9L1209.7 304.6L1212.4 303.3L1215.1 302.0L1217.8 300.7L1220.4 299.4L1223.1 298.1L1225.8 296.7L1228.5 295.4L1231.2 294.1L1233.9 292.8L1236.6 291.4L1239.2 290.1L1241.9 288.7L1244.6 287.4L1247.3 286.1L1250.0 284.7L1252.6 283.4L1255.3 282.0L1258.0 280.6L1260.6 279.3L1263.3 277.9L1266.0 276.6L1268.6 275.2L1271.3 273.8L1274.0 272.4L1276.6 271.1L1279.3 269.7L1282.0 268.3L1284.6 266.9L1287.3 265.5L1289.9 264.1L1292.6 262.7L1295.2 261.3L1297.9 259.9L1300.5 258.5L1303.2 257.1L1305.8 255.7L1308.5 254.2L1311.1 252.8L1313.7 251.4L1316.4 250.0L1319.0 248.5L1321.7 247.1L1324.3 245.7L1326.9 244.3L1329.6 242.8L1332.2 241.4L1334.8 240.0L1337.5 238.5L1340.1 237.1L1342.8 235.7L1345.4 234.2L1348.0 232.8L1350.7 231.4L1353.3 229.9L1355.9 228.5L1358.6 227.1L1361.2 225.7L1363.9 224.2L1366.5 222.8L1369.1 221.4L1371.8 220.0L1374.4 218.5L1377.1 217.1L1379.7 215.7L1382.3 214.3L1385.0 212.9L1387.6 211.5L1390.3 210.1L1392.9 208.7L1395.6 207.3L1398.2 205.9L1400.9 204.5L1403.5 203.1L1406.2 201.7L1408.9 200.3L1411.5 199.0L1414.2 197.6L1416.9 196.2L1419.5 194.9L1422.2 193.5L1424.9 192.2L1427.5 190.8L1430.2 189.5L1432.9 188.1L1435.6 186.8L1438.3 185.5L1440.9 184.2L1443.6 182.9L1446.3 181.6L1449.0 180.3L1451.7 179.0L1454.4 177.7L1457.1 176.4L1459.8 175.1L1462.6 173.9L1465.3 172.6L1468.0 171.4L1470.7 170.2L1473.4 168.9L1476.2 167.7L1478.9 166.5L1481.6 165.3L1484.4 164.1L1487.1 162.9L1489.9 161.8L1492.6 160.6L1495.4 159.4L1498.2 158.3L1500.9 157.2L1503.7 156.0L1506.5 154.9L1509.3 153.8L1512.1 152.7L1514.8 151.7L1517.6 150.6L1520.4 149.5L1523.3 148.5L1526.1 147.4L1528.9 146.4L1531.7 145.4L1534.5 144.4L1537.4 143.4L1540.2 142.5L1543.1 141.5L1545.9 140.5L1548.8 139.6L1551.6 138.7L1554.5 137.8L1557.4 136.9L1560.3 136.0L1563.1 135.1L1566.0 134.3L1568.9 133.4L1571.8 132.6L1574.8 131.8L1577.7 131.0L1580.6 130.2L1583.5 129.5L1586.5 128.7L1589.4 128.0L1592.3 127.3L1595.3 126.6L1598.2 126.0L1601.2 125.3L1604.1 124.7L1607.1 124.1L1610.0 123.5L1613.0 122.9L1616.0 122.4L1618.9 121.9L1621.9 121.4L1624.9 120.9L1627.9 120.5L1630.8 120.1L1633.8 119.7L1636.8 119.3L1639.7 119.0L1642.7 118.7L1645.7 118.4L1648.7 118.1L1651.6 117.9L1654.6 117.7L1657.6 117.5L1660.6 117.4L1663.5 117.3L1666.5 117.2L1669.5 117.1L1672.4 117.1L1675.4 117.1L1678.3 117.2L1681.3 117.3L1684.2 117.4L1687.2 117.6L1690.1 117.7L1693.1 118.0L1696.0 118.2L1698.9 118.5L1701.9 118.9L1704.8 119.2L1707.7 119.6L1710.6 120.1L1713.5 120.6L1716.4 121.1L1719.3 121.6L1722.2 122.3L1725.1 122.9L1728.0 123.6L1730.8 124.3L1733.7 125.1L1736.5 125.9L1739.4 126.8L1742.2 127.6L1745.1 128.6L1747.9 129.5L1750.7 130.5L1753.5 131.6L1756.3 132.6L1759.1 133.7L1761.9 134.9L1764.7 136.0L1767.4 137.2L1770.2 138.4L1773.0 139.7L1775.7 140.9L1778.5 142.2L1781.2 143.6L1783.9 144.9L1786.6 146.3L1789.4 147.7L1792.1 149.1L1794.8 150.5L1797.5 151.9L1800.1 153.4L1802.8 154.8L1805.5 156.3L1808.1 157.8L1810.8 159.3L1813.4 160.9L1816.1 162.4L1818.7 163.9L1821.3 165.5L1824.0 167.0L1826.6 168.6L1829.2 170.2L1831.8 171.7L1834.3 173.3L1836.9 174.9L1839.5 176.5L1842.1 178.1L1844.6 179.7L1847.2 181.3L1849.7 182.9L1852.3 184.5L1854.8 186.1L1857.3 187.7L1859.8 189.3L1862.4 191.0L1864.9 192.6L1867.4 194.2L1869.9 195.9L1872.4 197.5L1874.9 199.2L1877.3 200.8L1879.8 202.5L1882.3 204.2L1884.8 205.8L1887.2 207.5L1889.7 209.2L1892.1 210.8L1894.6 212.5L1897.0 214.2L1899.5 215.9L1901.9 217.6L1904.4 219.3L1906.8 221.0L1909.3 222.7L1911.7 224.4L1914.1 226.1L1916.5 227.8L1919.0 229.6L1921.4 231.3L1923.8 233.0L1926.2 234.8L1928.6 236.5L1931.0 238.2L1933.5 240.0L1935.9 241.7L1938.3 243.5L1940.7 245.2L1943.1 247.0L1945.5 248.7L1947.9 250.5L1950.3 252.2L1952.7 254.0L1955.1 255.8L1957.5 257.6L1959.9 259.3L1962.3 261.1L1964.7 262.9L1967.1 264.7L1969.5 266.4L1971.9 268.2L1974.3 270.0L1976.7 271.8L1979.2 273.6L1981.6 275.4L1984.0 277.2L1986.4 278.9L1988.8 280.7L1991.2 282.5L1993.6 284.3L1996.0 286.1L1998.4 287.9L2000.9 289.7L2003.3 291.4L2005.7 293.2L2008.1 295.0L2010.5 296.8L2013.0 298.6L2015.4 300.3L2017.8 302.1L2020.2 303.9L2022.7 305.6L2025.1 307.4L2027.5 309.1L2030.0 310.9L2032.4 312.6L2034.9 314.4L2037.3 316.1L2039.8 317.9L2042.2 319.6L2044.7 321.3L2047.1 323.1L2049.6 324.8L2052.1 326.5L2054.5 328.2L2057.0 329.9L2059.5 331.6L2062.0 333.3L2064.5 335.0L2067.0 336.6L2069.5 338.3L2072.0 340.0L2074.5 341.6L2077.0 343.3L2079.5 344.9L2082.0 346.5L2084.5 348.1L2087.0 349.8L2089.6 351.4L2092.1 353.0L2094.7 354.5L2097.2 356.1L2099.7 357.7L2102.3 359.2L2104.9 360.8L2107.4 362.3L2110.0 363.9L2112.6 365.4L2115.2 366.9L2117.8 368.4L2120.4 369.9L2123.0 371.3L2125.6 372.8L2128.2 374.2L2130.8 375.7L2133.4 377.1L2136.1 378.5L2138.7 379.9L2141.4 381.3L2144.0 382.7L2146.7 384.1L2149.3 385.4L2152.0 386.7L2154.7 388.1L2157.4 389.4L2160.1 390.7L2162.8 391.9L2165.5 393.2L2168.2 394.5L2171.0 395.7L2173.7 396.9L2176.4 398.1L2179.2 399.3L2182.0 400.5L2184.7 401.6L2187.5 402.8L2190.3 403.9L2193.1 405.0L2195.9 406.1L2198.7 407.2L2201.5 408.2L2204.4 409.3L2207.2 410.3L2210.0 411.3L2212.9 412.3L2215.8 413.2L2218.6 414.2L2221.5 415.1L2224.4 416.0L2227.3 416.9" stroke="#0000ff" stroke-width="5.0"/>
<path d="M286.1 971.7L287.5 969.1L288.9 966.5L290.3 963.9L291.7 961.2L293.0 958.6L294.4 955.9L295.7 953.2L297.0 950.5L298.3 947.8L299.6 945.1L300.9 942.4L302.1 939.7L303.4 937.0L304.6 934.3L305.9 931.5L307.1 928.8L308.3 926.0L309.5 923.3L310.7 920.5L311.9 917.8L313.1 915.0L314.3 912.2L315.5 909.5L316.7 906.7L317.9 903.9L319.0 901.1L320.2 898.4L321.4 895.6L322.6 892.8L323.8 890.1L325.0 887.3L326.2 884.5L327.4 881.8L328.7 879.0L329.9 876.3L331.1 873.5L332.4 870.8L333.6 868.1L334.9 865.3L336.2 862.6L337.5 859.9L338.8 857.2L340.1 854.5L341.4 851.8L342.8 849.2L344.2 846.5L345.6 843.9L347.0 841.2L348.4 838.6L349.8 836.0L351.3 833.4L352.8 830.8L354.3 828.2L355.9 825.7L357.4 823.1L359.0 820.6L360.6 818.1L362.3 815.6L363.9 813.1L365.6 810.7L367.3 808.2L369.0 805.8L370.8 803.4L372.5 801.0L374.3 798.6L376.1 796.2L377.9 793.8L379.7 791.4L381.6 789.0L383.4 786.7L385.2 784.3L387.1 782.0L389.0 779.6L390.9 777.3L392.7 775.0L394.6 772.6L396.5 770.3L398.4 768.0L400.3 765.6L402.2 763.3L404.1 761.0L406.0 758.7L407.9 756.3L409.8 754.0L411.7 751.7L413.6 749.4L415.5 747.0L417.4 744.7L419.3 742.4L421.2 740.1L423.1 737.7L425.0 735.4L426.9 733.1L428.8 730.8L430.7 728.5L432.7 726.1L434.6 723.8L436.5 721.5L438.4 719.2L440.3 716.9L442.2 714.6L444.1 712.3L446.1 710.0L448.0 707.7L449.9 705.4L451.8 703.1L453.8 700.8L455.7 698.5L457.7 696.2L459.6 694.0L461.6 691.7L463.5 689.4L465.5 687.2L467.5 684.9L469.5 682.7L471.4 680.4L473.4 678.2L475.4 676.0L477.4 673.7L479.4 671.5L481.5 669.3L483.5 667.1L485.5 664.9L487.5 662.7L489.6 660.5L491.6 658.3L493.7 656.1L495.7 654.0L497.8 651.8L499.9 649.6L502.0 647.5L504.1 645.3L506.1 643.2L508.2 641.1L510.3 638.9L512.4 636.8L514.5 634.7L516.7 632.5L518.8 630.4L520.9 628.3L523.0 626.2L525.2 624.1L527.3 622.0L529.4 619.9L531.6 617.8L533.7 615.7L535.9 613.6L538.0 611.5L540.2 609.5L542.4 607.4L544.5 605.3L546.7 603.2L548.9 601.2L551.0 599.1L553.2 597.0L555.4 595.0L557.6 592.9L559.7 590.9L561.9 588.8L564.1 586.7L566.3 584.7L568.5 582.6L570.7 580.6L572.9 578.5L575.1 576.5L577.3 574.4L579.5 572.4L581.7 570.3L583.9 568.3L586.1 566.3L588.3 564.2L590.4 562.2L592.6 560.1L594.8 558.1L597.0 556.0L599.2 554.0L601.4 552.0L603.6 549.9L605.8 547.9L608.0 545.8L610.2 543.8L612.4 541.7L614.6 539.7L616.8 537.6L619.0 535.6L621.2 533.5L623.4 531.5L625.6 529.4L627.7 527.4L629.9 525.3L632.1 523.2L634.3 521.2L636.5 519.1L638.6 517.1L640.8 515.0L643.0 512.9L645.1 510.8L647.3 508.8L649.4 506.7L651.6 504.6L653.8 502.5L655.9 500.4L658.0 498.3L660.2 496.2L662.3 494.1L664.4 492.0L666.6 489.9L668.7 487.8L670.8 485.7L672.9 483.6L675.0 481.4L677.1 479.3L679.2 477.2L681.3 475.0L683.4 472.9L685.5 470.7L687.6 468.6L689.7 466.4L691.7 464.3L693.8 462.1L695.8 459.9L697.9 457.7L699.9 455.5L702.0 453.4L704.0 451.2L706.0 448.9L708.0 446.7L710.0 444.5L712.0 442.3L714.0 440.1L716.0 437.8L718.0 435.6L720.0 433.3L721.9 431.1L723.9 428.8L725.8 426.5L727.8 424.2L729.7 421.9L731.6 419.7L733.5 417.3L735.4 415.0L737.3 412.7L739.2 410.4L741.1 408.0L743.0 405.7L744.8 403.3L746.7 401.0L748.5 398.6L750.4 396.2L752.2 393.8L754.0 391.5L755.8 389.1L757.6 386.6L759.4 384.2L761.2 381.8L763.0 379.4L764.8 377.0L766.6 374.6L768.3 372.1L770.1 369.7L771.9 367.2L773.6 364.8L775.4 362.4L777.1 359.9L778.9 357.5L780.6 355.0L782.3 352.6L784.1 350.1L785.8 347.6L787.6 345.2L789.3 342.7L791.0 340.3L792.8 337.9L794.6 335.4L796.3 333.0L798.1 330.6L800.0 328.3L801.8 325.9L803.7 323.6L805.6 321.3L807.5 319.0L809.5 316.7L811.5 314.5L813.5 312.3L815.6 310.2L817.7 308.1L819.9 306.0L822.2 304.1L824.6 302.3L827.2 300.7L830.0 299.3L832.9 298.3L835.8 298.0L838.7 298.4L841.4 299.6L843.9 301.2L846.1 303.3L848.0 305.7L849.6 308.3L851.0 311.0L852.3 313.7L853.5 316.5L854.6 319.3L855.6 322.1L856.6 324.9L857.4 327.8L858.3 330.6L859.1 333.5L859.8 336.4L860.5 339.4L861.1 342.3L861.7 345.2L862.3 348.2L862.9 351.1L863.5 354.0L864.0 357.0L864.6 360.0L865.1 362.9L865.6 365.9L866.1 368.8L866.6 371.8L867.1 374.7L867.5 377.7L868.0 380.7L868.5 383.6L868.9 386.6L869.3 389.6L869.8 392.5L870.2 395.5L870.7 398.5L871.1 401.4L871.5 404.4L871.9 407.4L872.4 410.3L872.8 413.3L873.2 416.3L873.6 419.2L874.1 422.2L874.5 425.2L874.9 428.2L875.3 431.1L875.7 434.1L876.1 437.1L876.6 440.0L877.0 443.0L877.4 446.0L877.8 448.9L878.2 451.9L878.6 454.9L879.0 457.8L879.4 460.8L879.8 463.8L880.2 466.8L880.6 469.7L881.0 472.7L881.4 475.7L881.8 478.6L882.2 481.6L882.6 484.6L883.0 487.6L883.4 490.5L883.8 493.5L884.2 496.5L884.6 499.4L885.0 502.4L885.4 505.4L885.8 508.4L886.2 511.3L886.6 514.3L886.9 517.3L887.3 520.3L887.7 523.2L888.1 526.2L888.5 529.2L888.9 532.2L889.2 535.1L889.6 538.1L890.0 541.1L890.4 544.1L890.7 547.1L891.1 550.0L891.5 553.0L891.9 556.0L892.2 559.0L892.6 562.0L893.0 564.9L893.4 567.9L893.8 570.9L894.2 573.9L894.6 576.9L895.0 579.8L895.5 582.8L895.9 585.7L896.4 588.7L896.9 591.7L897.4 594.6L898.0 597.5L898.6 600.5L899.2 603.4L899.8 606.3L900.5 609.2L901.2 612.2L901.9 615.0L902.7 617.9L903.5 620.8L904.4 623.7L905.3 626.5L906.2 629.4L907.2 632.2L908.1 635.1L909.1 638.0L910.0 640.9L911.0 643.7L912.0 646.5L913.2 649.3L914.6 652.0L916.1 654.5L917.9 656.9L920.0 659.1L922.4 660.9L925.1 662.3L928.1 663.0L931.1 663.0L934.0 662.3L936.6 661.0L939.0 659.3L941.2 657.2L943.3 655.0L945.4 652.8L947.4 650.6L949.4 648.3L951.4 646.0L953.3 643.7L955.2 641.3L957.1 638.9L958.9 636.5L960.7 634.1L962.5 631.7L964.4 629.3L966.1 626.9L967.9 624.4L969.7 622.0L971.5 619.6L973.3 617.1L975.1 614.7L976.9 612.3L978.8 609.9L980.6 607.6L982.4 605.2L984.3 602.8L986.2 600.5L988.1 598.1L990.0 595.8L991.9 593.5L993.8 591.2L995.7 588.9L997.7 586.6L999.6 584.4L1001.6 582.1L1003.6 579.9L1005.5 577.6L1007.5 575.4L1009.5 573.2L1011.6 571.0L1013.6 568.8L1015.6 566.6L1017.7 564.4L1019.7 562.2L1021.8 560.1L1023.9 557.9L1025.9 555.8L1028.0 553.6L1030.1 551.5L1032.3 549.4L1034.4 547.3L1036.5 545.2L1038.7 543.1L1040.8 541.1L1043.0 539.0L1045.1 537.0L1047.3 534.9L1049.5 532.9L1051.7 530.9L1053.9 528.8L1056.1 526.8L1058.3 524.8L1060.6 522.8L1062.8 520.9L1065.0 518.9L1067.3 516.9L1069.6 515.0L1071.8 513.0L1074.1 511.1L1076.4 509.2L1078.7 507.2L1081.0 505.3L1083.3 503.4L1085.6 501.5L1087.9 499.6L1090.3 497.8L1092.6 495.9L1094.9 494.0L1097.3 492.2L1099.6 490.3L1102.0 488.5L1104.4 486.6L1106.7 484.8L1109.1 483.0L1111.5 481.2L1113.9 479.4L1116.3 477.6L1118.7 475.8L1121.1 474.0L1123.5 472.2L1126.0 470.5L1128.4 468.7L1130.8 467.0L1133.3 465.2L1135.7 463.5L1138.2 461.7L1140.6 460.0L1143.1 458.3L1145.6 456.6L1148.0 454.9L1150.5 453.2L1153.0 451.5L1155.5 449.8L1158.0 448.1L1160.5 446.4L1163.0 444.8L1165.5 443.1L1168.0 441.5L1170.5 439.8L1173.0 438.2L1175.5 436.5L1178.1 434.9L1180.6 433.3L1183.1 431.6L1185.6 430.0L1188.2 428.4L1190.7 426.8L1193.3 425.2L1195.8 423.6L1198.4 422.0L1200.9 420.4L1203.5 418.9L1206.1 417.3L1208.6 415.7L1211.2 414.2L1213.8 412.6L1216.3 411.0L1218.9 409.5L1221.5 408.0L1224.1 406.4L1226.6 404.9L1229.2 403.3L1231.8 401.8L1234.4 400.3L1237.0 398.8L1239.6 397.3L1242.2 395.8L1244.8 394.3L1247.4 392.8L1250.0 391.3L1252.6 389.8L1255.2 388.3L1257.8 386.8L1260.4 385.3L1263.0 383.9L1265.6 382.4L1268.2 380.9L1270.8 379.5L1273.5 378.0L1276.1 376.5L1278.7 375.1L1281.3 373.7L1284.0 372.2L1286.6 370.8L1289.2 369.3L1291.8 367.9L1294.5 366.5L1297.1 365.1L1299.8 363.6L1302.4 362.2L1305.0 360.8L1307.7 359.4L1310.3 358.0L1313.0 356.6L1315.6 355.2L1318.3 353.8L1320.9 352.4L1323.6 351.0L1326.2 349.6L1328.9 348.3L1331.5 346.9L1334.2 345.5L1336.9 344.1L1339.5 342.8L1342.2 341.4L1344.9 340.0L1347.5 338.7L1350.2 337.3L1352.9 336.0L1355.5 334.6L1358.2 333.3L1360.9 331.9L1363.6 330.6L1366.3 329.2L1368.9 327.9L1371.6 326.6L1374.3 325.2L1377.0 323.9L1379.7 322.6L1382.4 321.3L1385.1 319.9L1387.8 318.6L1390.4 317.3L1393.1 316.0L1395.8 314.7L1398.5 313.4L1401.2 312.1L1403.9 310.8L1406.6 309.5L1409.3 308.2L1412.1 306.9L1414.8 305.6L1417.5 304.3L1420.2 303.0L1422.9 301.7L1425.6 300.4L1428.3 299.2L1431.0 297.9L1433.7 296.6L1436.5 295.3L1439.2 294.1L1441.9 292.8L1444.6 291.5L1447.3 290.2L1450.1 289.0L1452.8 287.7L1455.5 286.4L1458.2 285.2L1461.0 283.9L1463.7 282.7L1466.4 281.4L1469.2 280.2L1471.9 278.9L1474.6 277.7L1477.4 276.4L1480.1 275.2L1482.8 273.9L1485.6 272.7L1488.3 271.5L1491.1 270.2L1493.8 269.0L1496.6 267.8L1499.3 266.6L1502.1 265.4L1504.8 264.2L1507.6 263.0L1510.3 261.8L1513.1 260.6L1515.9 259.4L1518.6 258.3L1521.4 257.1L1524.2 255.9L1526.9 254.8L1529.7 253.6L1532.5 252.5L1535.3 251.4L1538.1 250.3L1540.8 249.2L1543.6 248.1L1546.4 247.0L1549.2 245.9L1552.0 244.8L1554.8 243.8L1557.6 242.7L1560.4 241.7L1563.2 240.7L1566.0 239.6L1568.8 238.6L1571.7 237.6L1574.5 236.7L1577.3 235.7L1580.1 234.7L1583.0 233.8L1585.8 232.9L1588.6 231.9L1591.5 231.0L1594.3 230.1L1597.2 229.3L1600.0 228.4L1602.9 227.5L1605.7 226.7L1608.6 225.9L1611.5 225.1L1614.4 224.3L1617.2 223.5L1620.1 222.8L1623.0 222.0L1625.9 221.3L1628.8 220.6L1631.7 219.9L1634.6 219.2L1637.5 218.6L1640.4 217.9L1643.3 217.3L1646.2 216.7L1649.2 216.1L1652.1 215.5L1655.0 215.0L1658.0 214.5L1660.9 214.0L1663.9 213.5L1666.8 213.0L1669.8 212.6L1672.7 212.1L1675.7 211.7L1678.7 211.3L1681.7 211.0L1684.7 210.6L1687.6 210.3L1690.6 210.0L1693.6 209.7L1696.7 209.5L1699.7 209.2L1702.7 209.0L1705.7 208.8L1708.7 208.7L1711.8 208.5L1714.8 208.4L1717.8 208.3L1720.9 208.3L1723.9 208.3L1727.0 208.3L1730.0 208.3L1733.0 208.4L1736.1 208.5L1739.1 208.7L1742.1 208.9L1745.1 209.1L1748.1 209.4L1751.1 209.7L1754.1 210.1L1757.1 210.5L1760.0 211.0L1763.0 211.5L1765.9 212.1L1768.8 212.7L1771.7 213.3L1774.6 214.1L1777.5 214.9L1780.3 215.7L1783.2 216.6L1786.0 217.7L1788.8 218.8L1791.5 220.0L1794.3 221.3L1797.1 222.6L1799.8 223.8L1802.6 224.9L1805.5 225.8L1808.4 226.5L1811.3 227.1L1814.2 227.5L1817.2 227.8L1820.2 227.9L1823.2 228.0L1826.2 228.1L1829.2 228.1L1832.2 228.0L1835.2 228.0L1838.3 228.0L1841.3 228.0L1844.3 228.1L1847.3 228.1L1850.3 228.2L1853.3 228.3L1856.3 228.5L1859.3 228.7L1862.3 229.0L1865.3 229.3L1868.2 229.7L1871.2 230.1L1874.1 230.6L1877.0 231.1L1880.0 231.7L1882.9 232.3L1885.8 232.9L1888.7 233.6L1891.6 234.3L1894.5 235.1L1897.3 235.9L1900.2 236.7L1903.1 237.5L1905.9 238.4L1908.8 239.3L1911.6 240.2L1914.5 241.2L1917.3 242.2L1920.2 243.2L1923.0 244.2L1925.8 245.2L1928.7 246.3L1931.5 247.3L1934.3 248.4L1937.1 249.5L1939.9 250.6L1942.7 251.7L1945.5 252.8L1948.3 253.9L1951.1 255.0L1953.9 256.1L1956.7 257.2L1959.5 258.3L1962.3 259.5L1965.1 260.6L1967.9 261.7L1970.7 262.8L1973.5 263.9L1976.3 265.1L1979.1 266.2L1981.9 267.3L1984.7 268.4L1987.5 269.5L1990.3 270.7L1993.1 271.8L1995.8 272.9L1998.6 274.0L2001.4 275.1L2004.2 276.3L2007.0 277.4L2009.8 278.5L2012.6 279.6L2015.3 280.8L2018.1 281.9L2020.9 283.0L2023.7 284.1L2026.5 285.3L2029.2 286.4L2032.0 287.5L2034.8 288.7L2037.6 289.8L2040.3 290.9L2043.1 292.0L2045.9 293.2L2048.7 294.3L2051.5 295.4L2054.2 296.5L2057.0 297.7L2059.8 298.8L2062.6 299.9L2065.3 301.0L2068.1 302.2L2070.9 303.3L2073.7 304.4L2076.4 305.5L2079.2 306.7L2082.0 307.8L2084.8 308.9L2087.5 310.0L2090.3 311.1L2093.1 312.3L2095.9 313.4L2098.6 314.5L2101.4 315.6L2104.2 316.7L2107.0 317.9L2109.7 319.0L2112.5 320.1L2115.3 321.2L2118.1 322.3L2120.9 323.4L2123.6 324.6L2126.4 325.7L2129.2 326.8L2132.0 327.9L2134.8 329.0L2137.5 330.1L2140.3 331.2L2143.1 332.3L2145.9 333.4L2148.7 334.6L2151.5 335.7L2154.2 336.8L2157.0 337.9L2159.8 339.0L2162.6 340.1L2165.4 341.2L2168.2 342.3L2171.0 343.4L2173.8 344.5L2176.6 345.6L2179.4 346.7L2182.1 347.7L2184.9 348.8L2187.7 349.9L2190.5 351.0L2193.3 352.1L2196.1 353.2L2198.9 354.3L2201.7 355.4L2204.6 356.4L2207.4 357.5L2210.2 358.6L2213.0 359.7L2215.8 360.7L2218.6 361.8L2221.4 362.9L2224.2 364.0L2227.0 365.0" stroke="#ff0000" stroke-width="5.0"/>
</g>
<g fill="none">
<path d="M741.8 405V654" stroke="#000" stroke-width="4.2"/>
<path d="M985.6 407V596" stroke="#9a9a9a" stroke-width="2.6"/>
<path d="M982.4 405V596" stroke="#000" stroke-width="4.0"/>
<path d="M1522.6 407V655" stroke="#8a8a8a" stroke-width="2.8"/>
<path d="M1519.3 405V655" stroke="#000" stroke-width="4.0"/>
</g>
<path d="M634.7 244.9L730.1 388.4" stroke="#ff0000" stroke-width="3.9" fill="none"/>
<path d="M740.6 404.2 L715.8 389.5 L730.1 388.4 L736.6 375.6Z" fill="#ff0000"/>
<path d="M870.5 243.0L965.4 388.5" stroke="#0072bd" stroke-width="3.9" fill="none"/>
<path d="M975.8 404.4 L951.1 389.5 L965.4 388.5 L972.1 375.8Z" fill="#0072bd"/>
<path d="M1326.0 181.0L1507.1 391.9" stroke="#000000" stroke-width="3.1" fill="none"/>
<path d="M1517.5 404.0 L1495.2 394.2 L1507.1 391.9 L1511.1 380.5Z" fill="#000000"/>
<path d="M762 616.2H1494" stroke="#9c9c9c" stroke-width="3"/>
<path d="M762 623.1H1494" stroke="#808080" stroke-width="2.8"/>
<path d="M1009.0 576.2L1493.0 576.2" stroke="#000" stroke-width="6.4" fill="none"/>
<path d="M1511.0 576.2 L1481.0 591.2 L1493.0 576.2 L1481.0 561.2Z" fill="#000"/><path d="M991.0 576.2 L1021.0 561.2 L1009.0 576.2 L1021.0 591.2Z" fill="#000"/>
<path d="M761.5 619.7L1497.0 619.7" stroke="#000" stroke-width="4.4" fill="none"/>
<path d="M1515.0 619.7 L1485.0 634.7 L1497.0 619.7 L1485.0 604.7Z" fill="#000"/><path d="M743.5 619.7 L773.5 604.7 L761.5 619.7 L773.5 634.7Z" fill="#000"/>
<g style="font-family:'Liberation Sans',Arial,Helvetica,sans-serif" fill="#262626" font-size="70">
<text x="273" y="69.0" text-anchor="end">200</text>
<text x="273" y="251.1" text-anchor="end">100</text>
<text x="273" y="435.8" text-anchor="end">0</text>
<text x="273" y="618.0" text-anchor="end">-100</text>
<text x="273" y="802.6" text-anchor="end">-200</text>
<text x="273" y="984.5" text-anchor="end">-300</text>
<text x="292.4" y="1047.8" text-anchor="middle">50</text>
<text x="569.1" y="1047.8" text-anchor="middle">100</text>
<text x="847.9" y="1047.8" text-anchor="middle">150</text>
<text x="1122.0" y="1047.8" text-anchor="middle">200</text>
<text x="1397.0" y="1047.8" text-anchor="middle">250</text>
<text x="1675.6" y="1047.8" text-anchor="middle">300</text>
<text x="1950.8" y="1047.8" text-anchor="middle">350</text>
<text x="2226.2" y="1047.8" text-anchor="middle">400</text>
</g>
<text x="1260.5" y="1141" text-anchor="middle" style="font-family:'Liberation Sans',Arial,Helvetica,sans-serif" fill="#262626" font-size="76.5">Frequency (MHz)</text>
<text transform="translate(77 662) rotate(-90)" style="font-family:'Liberation Sans',Arial,Helvetica,sans-serif" fill="#262626" font-size="76.5">Im(Z<tspan font-size="61" dy="38">e</tspan><tspan dy="-38">)(Ω)</tspan></text>
<text style="font-family:'Liberation Serif','DejaVu Serif',serif" font-weight="bold" fill="#ff0000">
<tspan x="375.2" y="226.0" font-size="52.5" textLength="17.6" lengthAdjust="spacingAndGlyphs" font-style="italic" font-weight="normal" stroke="#ff0000" stroke-width="1.5">f</tspan><tspan x="403.5" y="234.8" font-size="35.5" textLength="20.8" lengthAdjust="spacingAndGlyphs">0</tspan> <tspan x="436.1" y="234.8" font-size="35.5" textLength="19.4" lengthAdjust="spacingAndGlyphs" font-style="italic">A</tspan><tspan x="460.0" y="234.8" font-size="35.5" textLength="20.1" lengthAdjust="spacingAndGlyphs">3</tspan> <tspan x="495.1" y="225.0" font-size="50" textLength="40.2" lengthAdjust="spacingAndGlyphs">=</tspan> <tspan x="548.2" y="225.0" font-size="49.5" textLength="91.7" lengthAdjust="spacingAndGlyphs">130</tspan> <tspan x="656.4" y="225.0" font-size="49.5" textLength="108.5" lengthAdjust="spacingAndGlyphs" font-style="italic">MHz</tspan>
</text>
<text style="font-family:'Liberation Serif','DejaVu Serif',serif" font-weight="bold" fill="#3c3cff">
<tspan x="757.1" y="180.5" font-size="52.5" textLength="17.7" lengthAdjust="spacingAndGlyphs" font-style="italic" font-weight="normal" stroke="#3c3cff" stroke-width="1.5">f</tspan><tspan x="786.7" y="189.6" font-size="35.5" textLength="20.9" lengthAdjust="spacingAndGlyphs">0</tspan> <tspan x="819.4" y="189.6" font-size="35.5" textLength="19.4" lengthAdjust="spacingAndGlyphs" font-style="italic">A</tspan><tspan x="843.3" y="189.6" font-size="35.5" textLength="20.3" lengthAdjust="spacingAndGlyphs">2</tspan> <tspan x="878.4" y="181.0" font-size="50" textLength="40.2" lengthAdjust="spacingAndGlyphs">=</tspan> <tspan x="929.2" y="181.0" font-size="49.5" textLength="92.8" lengthAdjust="spacingAndGlyphs">176</tspan> <tspan x="1038.8" y="181.0" font-size="49.5" textLength="109.1" lengthAdjust="spacingAndGlyphs" font-style="italic">MHz</tspan>
</text>
<text style="font-family:'Liberation Serif','DejaVu Serif',serif" font-weight="bold" fill="#0a0a0a">
<tspan x="1148.9" y="128.0" font-size="52.5" textLength="18.2" lengthAdjust="spacingAndGlyphs" font-style="italic" font-weight="normal" stroke="#0a0a0a" stroke-width="1.5">f</tspan><tspan x="1178.2" y="137.0" font-size="35.5" textLength="22.7" lengthAdjust="spacingAndGlyphs">0</tspan> <tspan x="1212.3" y="137.0" font-size="35.5" textLength="78.3" lengthAdjust="spacingAndGlyphs" font-style="italic">Aref</tspan> <tspan x="1310.8" y="126.5" font-size="50" textLength="39.5" lengthAdjust="spacingAndGlyphs">=</tspan> <tspan x="1362.9" y="126.5" font-size="49.5" textLength="89.5" lengthAdjust="spacingAndGlyphs">271</tspan> <tspan x="1469.8" y="126.5" font-size="49.5" textLength="110.1" lengthAdjust="spacingAndGlyphs" font-style="italic">MHz</tspan>
</text>
<text style="font-family:'Liberation Serif','DejaVu Serif',serif" font-weight="normal" fill="#2a2a2a">
<tspan x="1024.7" y="546.8" font-size="50.5" textLength="227.1" lengthAdjust="spacingAndGlyphs" font-style="italic">Reduction</tspan> <tspan x="1264.0" y="547.8" font-size="53" textLength="18.5" lengthAdjust="spacingAndGlyphs" font-style="italic">f</tspan><tspan x="1287.3" y="557.3" font-size="31" textLength="18.9" lengthAdjust="spacingAndGlyphs">0</tspan> <tspan x="1318.8" y="547.0" font-size="50" textLength="39.1" lengthAdjust="spacingAndGlyphs">=</tspan> <tspan x="1373.1" y="547.6" font-size="50.5" textLength="102.7" lengthAdjust="spacingAndGlyphs">35%</tspan>
</text>
<text style="font-family:'Liberation Serif','DejaVu Serif',serif" font-weight="normal" fill="#2a2a2a">
<tspan x="869.3" y="680.3" font-size="50.5" textLength="227.0" lengthAdjust="spacingAndGlyphs" font-style="italic">Reduction</tspan> <tspan x="1110.0" y="681.8" font-size="53" textLength="18.5" lengthAdjust="spacingAndGlyphs" font-style="italic">f</tspan><tspan x="1133.4" y="690.7" font-size="31" textLength="17.7" lengthAdjust="spacingAndGlyphs">0</tspan> <tspan x="1164.6" y="680.5" font-size="50" textLength="40.9" lengthAdjust="spacingAndGlyphs">=</tspan> <tspan x="1219.1" y="681.6" font-size="50.5" textLength="102.7" lengthAdjust="spacingAndGlyphs">52%</tspan>
</text>
<rect x="1476.6" y="672.4" width="732.8" height="267.8" fill="#fff" stroke="#cfcfcf" stroke-width="3"/>
<path d="M1475 940.3H2211" stroke="#b4b4b4" stroke-width="2.6"/>
<path d="M1479.5 729.5H1534" stroke="#1a1a1a" stroke-width="6.2" stroke-dasharray="21 19.5"/>
<path d="M1479.5 822.2H1534" stroke="#0000ff" stroke-width="4.4"/>
<path d="M1479.5 900.8H1534" stroke="#ff0000" stroke-width="5"/>
<g style="font-family:'Liberation Sans',Arial,Helvetica,sans-serif" fill="#141414" font-size="63.2">
<text x="1535" y="739.7">Reference antenna A<tspan font-size="50.8" dy="30.3" dx="1.5">Ref</tspan></text>
<text x="1535.5" y="847.6">Antenna A2</text>
<text x="1535.5" y="924.8">Antenna A3</text>
</g>
</svg>
</body>
</html>
